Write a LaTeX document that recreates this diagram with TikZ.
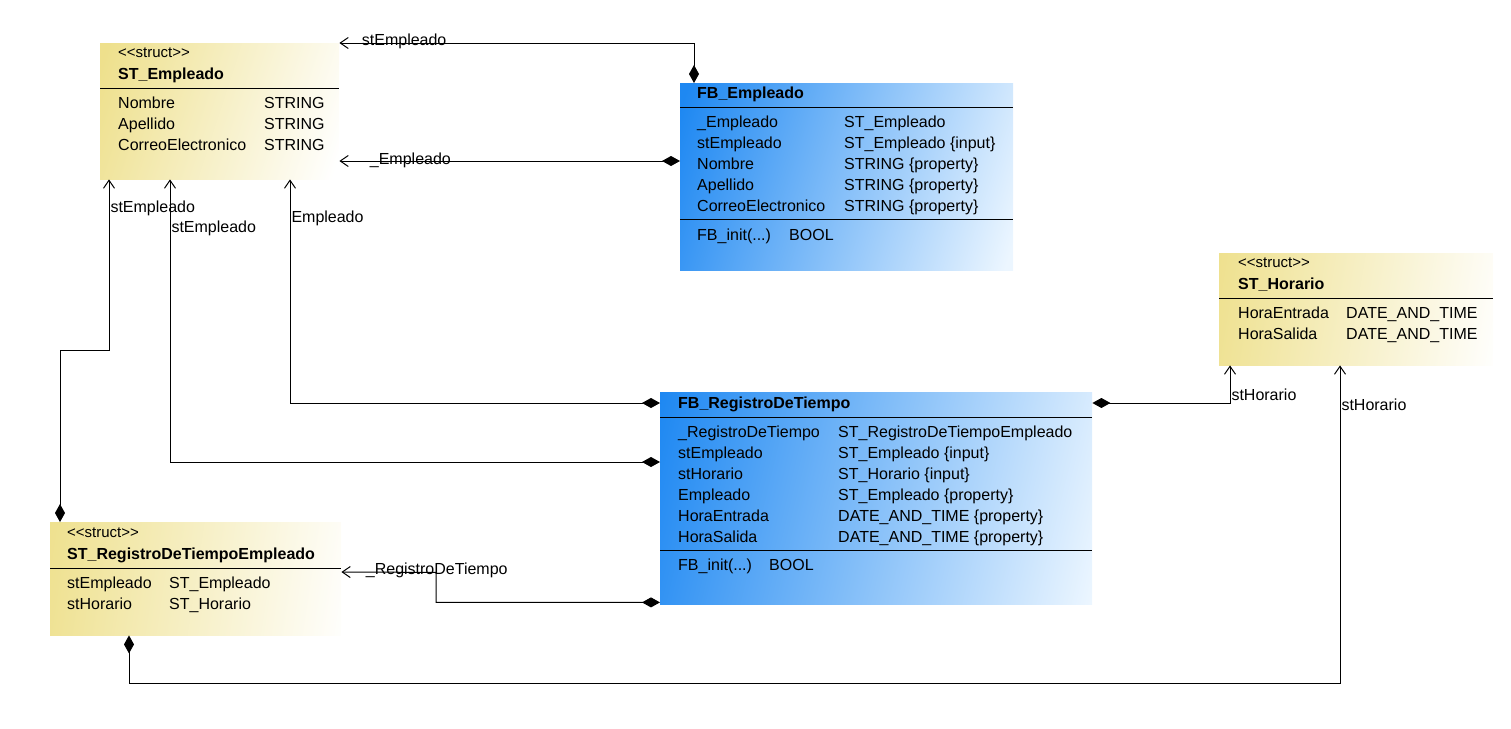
\documentclass[tikz,border=0pt]{standalone}
\usepackage{fontspec}
\setmainfont{Liberation Sans}
\usetikzlibrary{arrows.meta,calc,positioning}
\definecolor{stYellow}{RGB}{238,224,140}
\definecolor{fbBlue}{RGB}{30,136,242}
\definecolor{fbLight}{RGB}{236,246,255}
\pgfdeclareverticalshading{stShade}{100bp}{color(0bp)=(white); color(20bp)=(white); color(80bp)=(stYellow); color(100bp)=(stYellow)}
\pgfdeclareverticalshading{fbShade}{100bp}{color(0bp)=(fbLight); color(20bp)=(fbLight); color(80bp)=(fbBlue); color(100bp)=(fbBlue)}
\tikzset{comp/.style={draw,line width=1pt,{Diamond[length=18pt,width=10pt]}-{Straight Barb[length=8pt,width=11pt]}}}
\tikzset{stbox/.style n args={3}{anchor=north west,inner sep=0,shade,shading=stShade,shading angle=#3,minimum width=#1,minimum height=#2}}
\tikzset{fbbox/.style n args={3}{anchor=north west,inner sep=0,shade,shading=fbShade,shading angle=#3,minimum width=#1,minimum height=#2}}
\tikzset{txt/.style={anchor=base west,inner sep=0,font={\fontsize{16pt}{18pt}\selectfont}}}
\tikzset{ttl/.style={txt,font={\fontsize{16pt}{18pt}\selectfont\bfseries}}}
\tikzset{stereo/.style={txt,font={\fontsize{15pt}{17pt}\selectfont}}}
\tikzset{lbl/.style={anchor=west,inner sep=0,font={\fontsize{16pt}{18pt}\selectfont}}}
\tikzset{sep/.style={line width=1pt}}

\begin{document}
\begin{tikzpicture}[x=1pt,y=-1pt]
        \useasboundingbox (0,0) rectangle (1511,728);
        \node[stbox={239}{136}{72}] (stEmp) at (100,43) {};
        \node[fbbox={333}{187}{72.5}] (fbEmp) at (680,83) {};
        \node[stbox={274}{112}{80.5}] (stHor) at (1219,253) {};
        \node[fbbox={432}{212}{76.5}] (fbReg) at (660,392) {};
        \node[stbox={291}{113}{81.4}] (stReg) at (50,522) {};

        \node[stereo] (stEmpS) at ($(stEmp.north west)+(18,14)$) {<\kern0pt<struct>\kern0pt>};
        \node[ttl] (stEmpH) at ($(stEmp.north west)+(18,36)$) {ST\_Empleado};
        \draw[sep] ($(stEmp.north west)+(0,45)$) -- ($(stEmp.north east)+(0,45)$);
        \foreach \n/\t [count=\i from 0] in {Nombre/STRING, Apellido/STRING, CorreoElectronico/STRING}{
            \node[txt] (stEmpN\i) at ($(stEmp.north west)+(18,65+21*\i)$) {\n};
            \node[txt] (stEmpT\i) at ($(stEmp.north west)+(164,65+21*\i)$) {\t};
        }

        \node[ttl] (fbEmpH) at ($(fbEmp.north west)+(17,15)$) {FB\_Empleado};
        \draw[sep] ($(fbEmp.north west)+(0,24)$) -- ($(fbEmp.north east)+(0,24)$);
        \foreach \n/\t [count=\i from 0] in {\_Empleado/ST\_Empleado, stEmpleado/ST\_Empleado \{input\}, Nombre/STRING \{property\}, Apellido/STRING \{property\}, CorreoElectronico/STRING \{property\}}{
            \node[txt] (fbEmpN\i) at ($(fbEmp.north west)+(17,44+21*\i)$) {\n};
            \node[txt] (fbEmpT\i) at ($(fbEmp.north west)+(164,44+21*\i)$) {\t};
        }
        \draw[sep] ($(fbEmp.north west)+(0,136)$) -- ($(fbEmp.north east)+(0,136)$);
        \node[txt] (fbEmpM) at ($(fbEmp.north west)+(17,157)$) {FB\_init(...)};
        \node[txt] (fbEmpR) at ($(fbEmp.north west)+(109,157)$) {BOOL};

        \node[stereo] (stHorS) at ($(stHor.north west)+(19,14)$) {<\kern0pt<struct>\kern0pt>};
        \node[ttl] (stHorH) at ($(stHor.north west)+(19,36)$) {ST\_Horario};
        \draw[sep] ($(stHor.north west)+(0,45)$) -- ($(stHor.north east)+(0,45)$);
        \foreach \n/\t [count=\i from 0] in {HoraEntrada/DATE\_AND\_TIME, HoraSalida/DATE\_AND\_TIME}{
            \node[txt] (stHorN\i) at ($(stHor.north west)+(19,65+21*\i)$) {\n};
            \node[txt] (stHorT\i) at ($(stHor.north west)+(127,65+21*\i)$) {\t};
        }

        \node[ttl] (fbRegH) at ($(fbReg.north west)+(18,16)$) {FB\_RegistroDeTiempo};
        \draw[sep] ($(fbReg.north west)+(0,25)$) -- ($(fbReg.north east)+(0,25)$);
        \foreach \n/\t [count=\i from 0] in {\_RegistroDeTiempo/ST\_RegistroDeTiempoEmpleado, stEmpleado/ST\_Empleado \{input\}, stHorario/ST\_Horario \{input\}, Empleado/ST\_Empleado \{property\}, HoraEntrada/DATE\_AND\_TIME \{property\}, HoraSalida/DATE\_AND\_TIME \{property\}}{
            \node[txt] (fbRegN\i) at ($(fbReg.north west)+(18,45+21*\i)$) {\n};
            \node[txt] (fbRegT\i) at ($(fbReg.north west)+(178,45+21*\i)$) {\t};
        }
        \draw[sep] ($(fbReg.north west)+(0,158)$) -- ($(fbReg.north east)+(0,158)$);
        \node[txt] (fbRegM) at ($(fbReg.north west)+(18,178)$) {FB\_init(...)};
        \node[txt] (fbRegR) at ($(fbReg.north west)+(109,178)$) {BOOL};

        \node[stereo] (stRegS) at ($(stReg.north west)+(17,15)$) {<\kern0pt<struct>\kern0pt>};
        \node[ttl] (stRegH) at ($(stReg.north west)+(17,37)$) {ST\_RegistroDeTiempoEmpleado};
        \draw[sep] ($(stReg.north west)+(0,46)$) -- ($(stReg.north east)+(0,46)$);
        \foreach \n/\t [count=\i from 0] in {stEmpleado/ST\_Empleado, stHorario/ST\_Horario}{
            \node[txt] (stRegN\i) at ($(stReg.north west)+(17,66+21*\i)$) {\n};
            \node[txt] (stRegT\i) at ($(stReg.north west)+(119,66+21*\i)$) {\t};
        }

        \draw[comp] ($(fbEmp.north west)+(14,0)$) |- (stEmp.north east) node[lbl,xshift=22pt,yshift=2pt] {stEmpleado};
        \draw[comp] ($(fbEmp.north west)+(0,78)$) coordinate (fbEmpL) -- (fbEmpL -| stEmp.east) node[lbl,xshift=30pt,yshift=1pt] {\_Empleado};
        \draw[comp] ($(fbReg.north west)+(0,11)$) -| ($(stEmp.south west)+(190,0)$) node[lbl,xshift=1pt,yshift=-39pt] {Empleado};
        \draw[comp] ($(fbReg.north west)+(0,70)$) -| ($(stEmp.south west)+(70,0)$) node[lbl,xshift=1pt,yshift=-49pt] {stEmpleado};
        \draw[comp] ($(stReg.north west)+(10,0)$) -- ++(0,-172) -| ($(stEmp.south west)+(9,0)$) node[lbl,xshift=1pt,yshift=-29pt] {stEmpleado};
        \draw[comp] ($(fbReg.south west)+(0,-2)$) -| ++(-224,-30) -- ($(stReg.north east)+(0,50)$) node[lbl,xshift=24pt,yshift=2pt] {\_RegistroDeTiempo};
        \draw[comp] ($(fbReg.north east)+(0,11)$) -| ($(stHor.south west)+(11,0)$) node[lbl,xshift=1pt,yshift=-29pt] {stHorario};
        \draw[comp] ($(stReg.south west)+(79,0)$) -- ++(0,48) -| ($(stHor.south west)+(121,0)$) node[lbl,xshift=1pt,yshift=-39pt] {stHorario};
\end{tikzpicture}
\end{document}
